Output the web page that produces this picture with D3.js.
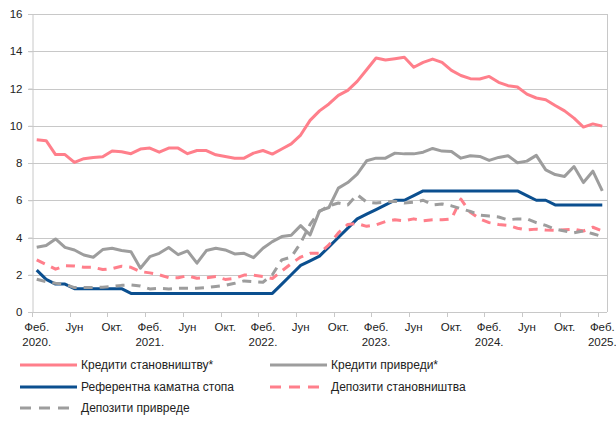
<!DOCTYPE html>
<html>
<head>
<meta charset="utf-8">
<script src="https://cdn.jsdelivr.net/npm/d3@7"></script>
<style>
  body { margin: 0; background: #fff; }
  svg { display: block; font-family: "Liberation Sans", Arial, sans-serif; }
</style>
</head>
<body>
<svg id="chart" width="616" height="421"></svg>
<script>
// months Feb 2020 .. Feb 2025
const months = [
  "2020-02","2020-03","2020-04","2020-05","2020-06","2020-07","2020-08","2020-09","2020-10","2020-11","2020-12",
  "2021-01","2021-02","2021-03","2021-04","2021-05","2021-06","2021-07","2021-08","2021-09","2021-10","2021-11","2021-12",
  "2022-01","2022-02","2022-03","2022-04","2022-05","2022-06","2022-07","2022-08","2022-09","2022-10","2022-11","2022-12",
  "2023-01","2023-02","2023-03","2023-04","2023-05","2023-06","2023-07","2023-08","2023-09","2023-10","2023-11","2023-12",
  "2024-01","2024-02","2024-03","2024-04","2024-05","2024-06","2024-07","2024-08","2024-09","2024-10","2024-11","2024-12",
  "2025-01","2025-02"
];
const monthNames = { "02": "Феб.", "06": "Јун", "10": "Окт." };

const hhLoans = [9.25, 9.2, 8.45, 8.45, 8.03, 8.23, 8.3, 8.33, 8.65, 8.6,
  8.5, 8.75, 8.8, 8.58, 8.8, 8.8, 8.5, 8.67, 8.67, 8.44,
  8.35, 8.26, 8.26, 8.53, 8.67, 8.48, 8.75, 9.03, 9.5, 10.29,
  10.8, 11.17, 11.63, 11.9, 12.38, 13.01, 13.64, 13.53, 13.6, 13.68,
  13.14, 13.4, 13.58, 13.4, 12.97, 12.7, 12.53, 12.51, 12.65, 12.33,
  12.15, 12.08, 11.7, 11.49, 11.4, 11.09, 10.8, 10.41, 9.93, 10.1,
  9.98];
const bizLoans = [3.48, 3.57, 3.92, 3.47, 3.33, 3.06, 2.94, 3.35, 3.42, 3.3,
  3.24, 2.35, 2.97, 3.15, 3.46, 3.08, 3.28, 2.62, 3.3, 3.42,
  3.33, 3.12, 3.15, 2.92, 3.42, 3.78, 4.05, 4.12, 4.64, 4.14,
  5.43, 5.61, 6.65, 6.95, 7.4, 8.12, 8.26, 8.26, 8.53, 8.49,
  8.49, 8.58, 8.78, 8.64, 8.62, 8.26, 8.39, 8.35, 8.14, 8.3,
  8.39, 8.01, 8.1, 8.41, 7.63, 7.38, 7.28, 7.81, 6.95, 7.56,
  6.5];
const refRate = [2.25, 1.75, 1.5, 1.5, 1.25, 1.25, 1.25, 1.25, 1.25, 1.25,
  1, 1, 1, 1, 1, 1, 1, 1, 1, 1,
  1, 1, 1, 1, 1, 1, 1.5, 2, 2.5, 2.75,
  3, 3.5, 4, 4.5, 5, 5.25, 5.5, 5.75, 6, 6,
  6.25, 6.5, 6.5, 6.5, 6.5, 6.5, 6.5, 6.5, 6.5, 6.5,
  6.5, 6.5, 6.25, 6, 6, 5.75, 5.75, 5.75, 5.75, 5.75,
  5.75];
const hhDeposits = [2.8, 2.55, 2.3, 2.48, 2.47, 2.4, 2.4, 2.28, 2.33, 2.46,
  2.4, 2.17, 2.1, 2.0, 1.84, 1.84, 1.95, 1.81, 1.84, 1.9,
  1.75, 1.81, 1.98, 1.98, 1.9, 1.8, 2.2, 2.6, 2.95, 3.15,
  3.15, 3.6, 4.25, 4.7, 4.75, 4.6, 4.68, 4.86, 4.95, 4.9,
  5.0, 4.9, 4.95, 4.95, 5.0, 6.06, 5.35, 5.0, 4.8, 4.7,
  4.65, 4.5, 4.4, 4.45, 4.4, 4.38, 4.42, 4.45, 4.35, 4.55,
  4.35];
const bizDeposits = [1.76, 1.63, 1.54, 1.49, 1.31, 1.31, 1.31, 1.33, 1.37, 1.43,
  1.45, 1.4, 1.24, 1.27, 1.24, 1.27, 1.27, 1.27, 1.31, 1.37,
  1.43, 1.54, 1.67, 1.63, 1.6, 2.0, 2.8, 2.95, 3.7, 4.7,
  5.4, 5.7, 5.85, 5.75, 6.3, 5.9, 5.85, 5.9, 5.95, 5.85,
  5.9, 6.0, 5.75, 5.8, 5.7, 5.55, 5.4, 5.2, 5.15, 5.1,
  4.95, 5.0, 5.0, 4.8, 4.65, 4.45, 4.35, 4.25, 4.35, 4.2,
  4.05];

const series = [
  { name: "Кредити становништву*", values: hhLoans, color: "#ff7f8b", dash: null },
  { name: "Кредити привреди*", values: bizLoans, color: "#9d9d9d", dash: null },
  { name: "Референтна каматна стопа", values: refRate, color: "#0b4f8f", dash: null },
  { name: "Депозити становништва", values: hhDeposits, color: "#ff7f8b", dash: "9,7" },
  { name: "Депозити привреде", values: bizDeposits, color: "#9d9d9d", dash: "9,7" }
];

const svg = d3.select("#chart");
const margin = { top: 14, right: 9, bottom: 109, left: 32 };
const width = 616, height = 421;

const x = d3.scaleBand()
  .domain(months)
  .range([margin.left, width - margin.right])
  .padding(0);

const y = d3.scaleLinear()
  .domain([0, 16])
  .range([height - margin.bottom, margin.top]);

const cx = d => x(d) + x.bandwidth() / 2;

// gridlines
svg.append("g")
  .selectAll("line")
  .data(y.ticks(8))
  .join("line")
  .attr("x1", margin.left - 4)
  .attr("x2", width - margin.right)
  .attr("y1", d => Math.round(y(d)) + 0.5)
  .attr("y2", d => Math.round(y(d)) + 0.5)
  .attr("stroke", "#c8c8c8")
  .attr("stroke-width", 1);

// right border
svg.append("line")
  .attr("x1", width - margin.right + 0.5).attr("x2", width - margin.right + 0.5)
  .attr("y1", margin.top).attr("y2", y(0))
  .attr("stroke", "#c8c8c8");

// y axis
const yAxis = g => g
  .attr("transform", `translate(${margin.left + 0.5},0)`)
  .call(d3.axisLeft(y).ticks(8).tickSize(4).tickPadding(6))
  .call(g => g.select(".domain").attr("stroke", "#c8c8c8"))
  .call(g => g.selectAll(".tick line").attr("stroke", "#c8c8c8"))
  .call(g => g.selectAll("text").attr("fill", "#222").style("font-size", "11.5px"));
svg.append("g").call(yAxis);

// x axis
const tickMonths = months.filter((m, i) => i % 4 === 0);
const xg = svg.append("g");
xg.append("line")
  .attr("x1", margin.left).attr("x2", width - margin.right)
  .attr("y1", y(0) + 0.5).attr("y2", y(0) + 0.5)
  .attr("stroke", "#c8c8c8");
xg.selectAll(".tk")
  .data(tickMonths)
  .join("line")
  .attr("x1", d => Math.round(x(d)) + 0.5)
  .attr("x2", d => Math.round(x(d)) + 0.5)
  .attr("y1", y(0)).attr("y2", y(0) + 5)
  .attr("stroke", "#c8c8c8");
const lbl = xg.selectAll(".lb")
  .data(tickMonths)
  .join("text")
  .attr("text-anchor", "middle")
  .attr("fill", "#222")
  .style("font-size", "11.5px");
lbl.append("tspan")
  .attr("x", d => cx(d))
  .attr("y", y(0) + 19)
  .text(d => monthNames[d.slice(5)]);
lbl.append("tspan")
  .attr("x", d => cx(d))
  .attr("y", y(0) + 34)
  .text(d => d.slice(5) === "02" ? d.slice(0, 4) + "." : "");

// lines
const line = vals => d3.line()
  .x((d, i) => cx(months[i]))
  .y(d => y(d))(vals);

svg.append("g")
  .selectAll("path")
  .data(series)
  .join("path")
  .attr("d", s => line(s.values))
  .attr("fill", "none")
  .attr("stroke", s => s.color)
  .attr("stroke-width", 3)
  .attr("stroke-dasharray", s => s.dash)
  .attr("stroke-linejoin", "round");

// legend
const legendPos = [
  { x: 20, y: 365 }, { x: 270, y: 365 },
  { x: 20, y: 387 }, { x: 270, y: 387 },
  { x: 20, y: 408 }
];
const lg = svg.append("g")
  .selectAll("g")
  .data(series)
  .join("g")
  .attr("transform", (s, i) => `translate(${legendPos[i].x},${legendPos[i].y})`);
lg.append("line")
  .attr("x1", 0).attr("x2", 57)
  .attr("stroke", s => s.color)
  .attr("stroke-width", 3)
  .attr("stroke-dasharray", s => s.dash ? "11,8" : null);
lg.append("text")
  .attr("x", 61)
  .attr("y", 4)
  .attr("fill", "#222")
  .style("font-size", "12px")
  .text(s => s.name);
</script>
</body>
</html>
